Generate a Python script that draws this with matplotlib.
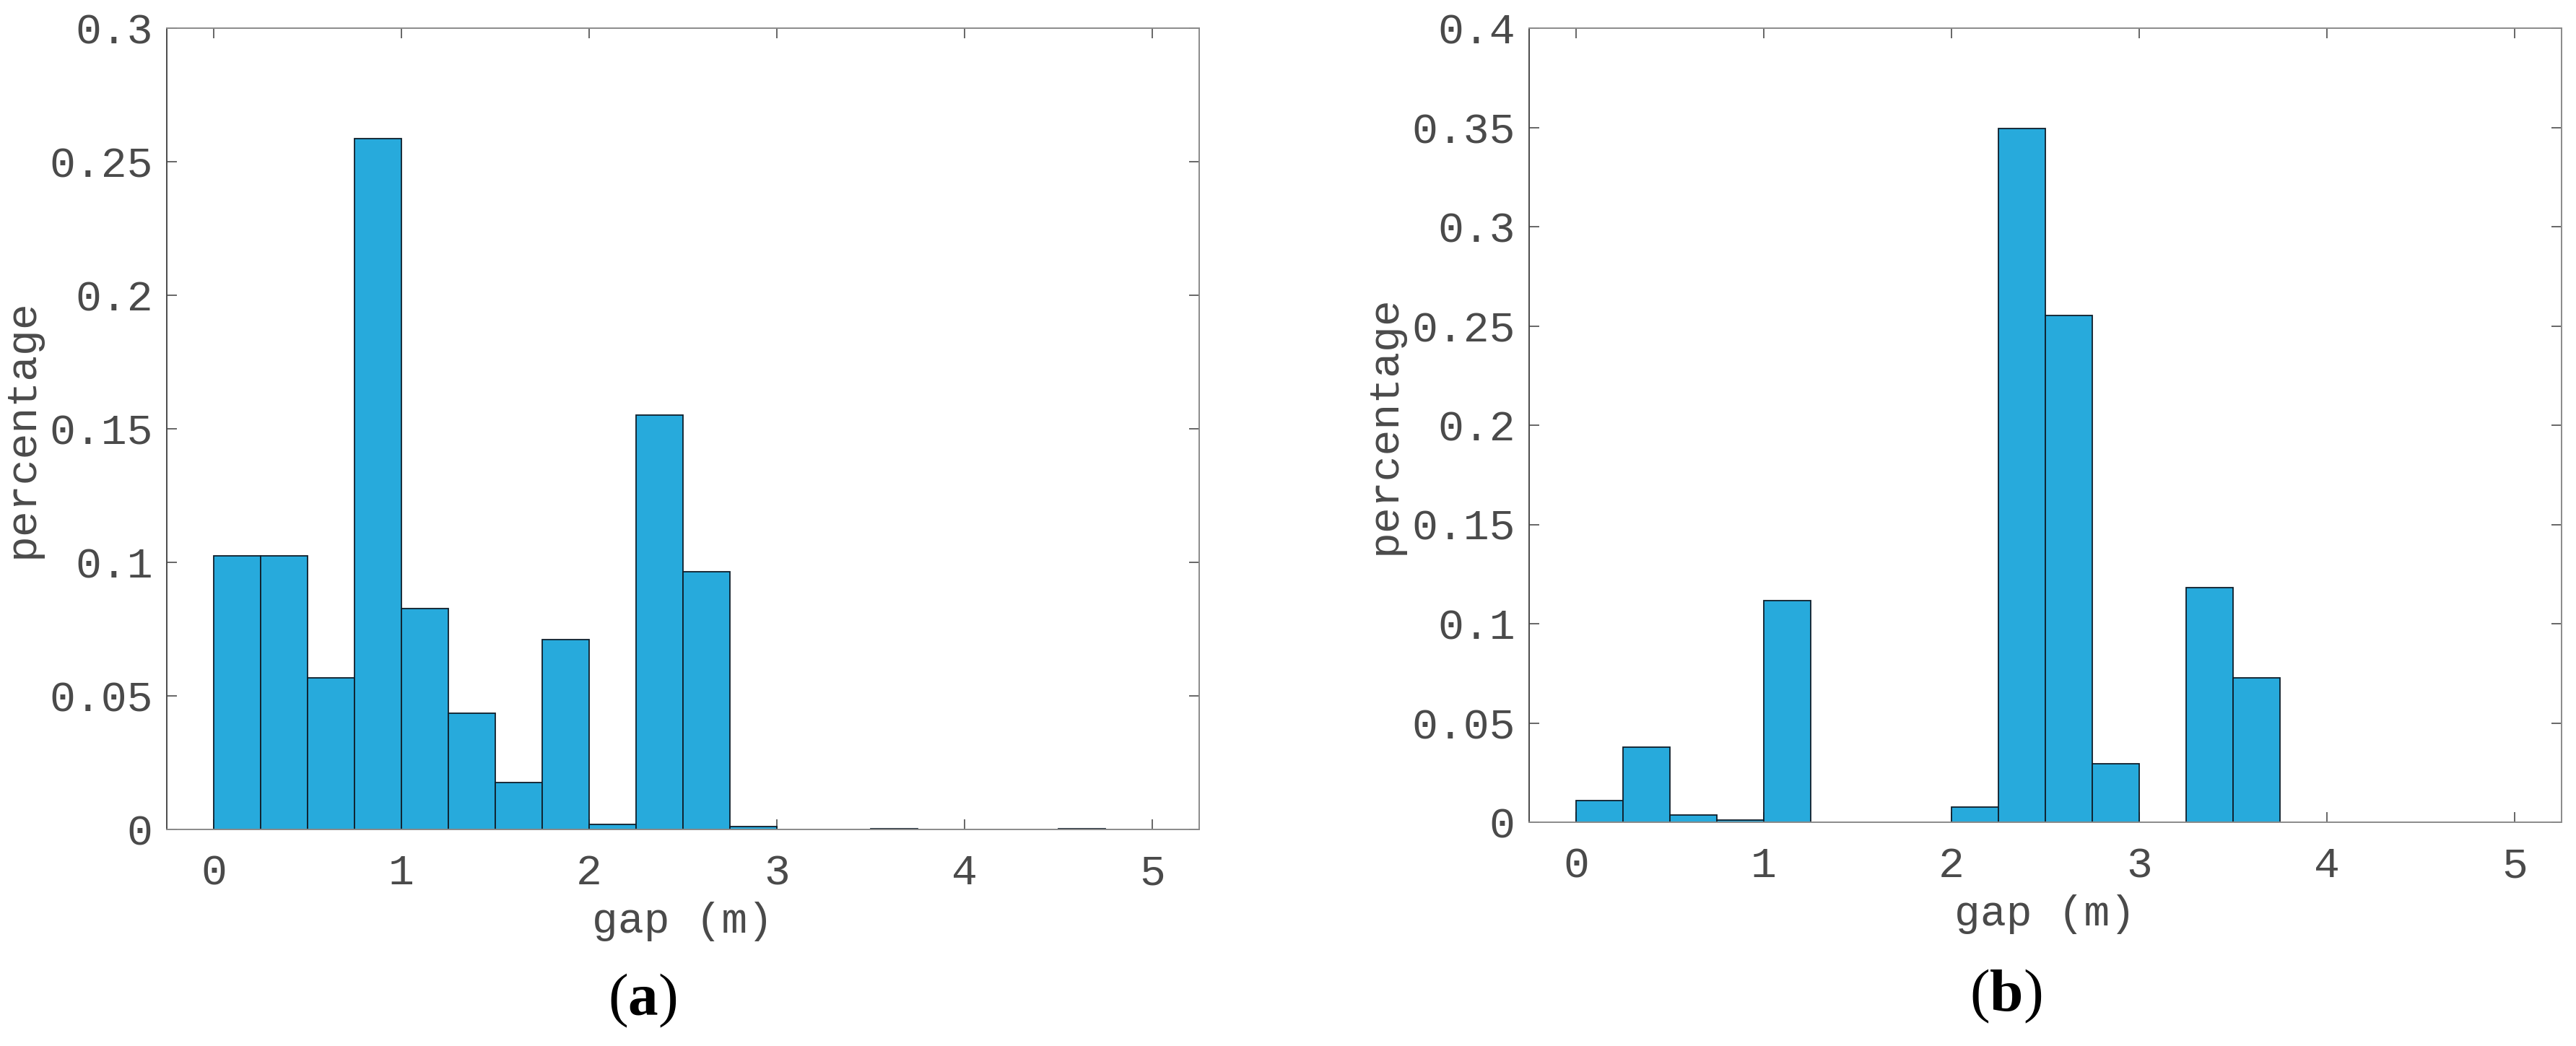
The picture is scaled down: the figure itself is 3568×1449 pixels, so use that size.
import numpy as np
import matplotlib
matplotlib.use("Agg")
import matplotlib.pyplot as plt

# ---------------- data ----------------
bin_edges = np.arange(0, 5.0001, 0.25)

pct_a = [0.1024, 0.1024, 0.0567, 0.2586, 0.0827, 0.0435, 0.0175, 0.0712,
         0.0020, 0.1551, 0.0964, 0.0010, 0.0, 0.0, 0.0003, 0.0,
         0.0, 0.0, 0.0003, 0.0]
pct_b = [0.0108, 0.0380, 0.0037, 0.0010, 0.1116, 0.0, 0.0, 0.0,
         0.0077, 0.3496, 0.2551, 0.0296, 0.0, 0.1183, 0.0729, 0.0,
         0.0, 0.0, 0.0, 0.0]

xticks = [0, 1, 2, 3, 4, 5]
yticks_a = [0, 0.05, 0.1, 0.15, 0.2, 0.25, 0.3]
yticks_b = [0, 0.05, 0.1, 0.15, 0.2, 0.25, 0.3, 0.35, 0.4]
ylim_a = 0.3
ylim_b = 0.4
xlabel = "gap (m)"
ylabel = "percentage"
panel_labels = ["a", "b"]

# ---------------- style ----------------
W, H = 3568, 1449
DPI = 100
fig = plt.figure(figsize=(W / DPI, H / DPI), dpi=DPI)
fig.patch.set_facecolor("white")

FONT = "Liberation Mono"
FS = 43
TXT = "#4a4a4a"
FACE = "#27AADC"
EDGE = "#0f1e2a"

plt.rcParams["mathtext.fontset"] = "custom"
plt.rcParams["mathtext.rm"] = "Liberation Serif"
plt.rcParams["mathtext.bf"] = "Liberation Serif:bold"


def fmt(v):
    return f"{v:g}"


def make_panel(rect, vals, yticks, ymax, label_xy, letter):
    ax = fig.add_axes(rect)
    widths = np.diff(bin_edges)
    lefts = bin_edges[:-1]
    v = np.asarray(vals)
    mask = v > 0
    ax.bar(lefts[mask], v[mask], width=widths[mask], align="edge",
           color=FACE, edgecolor=EDGE, linewidth=1.3, zorder=2)
    ax.set_xlim(-0.25, 5.25)
    ax.set_ylim(0, ymax)
    ax.set_xticks(xticks)
    ax.set_xticklabels([fmt(t) for t in xticks])
    ax.set_yticks(yticks)
    ax.set_yticklabels([fmt(t) for t in yticks])
    for s in ax.spines.values():
        s.set_color("#8a8a8a")
        s.set_linewidth(1.4)
        s.set_zorder(3)
    ax.spines["left"].set_color("#4a4a4a")
    ax.tick_params(axis="both", which="both", direction="in", length=10,
                   width=1.4, colors="#666666", top=True, right=True,
                   labelsize=FS, labelcolor=TXT)
    ax.tick_params(axis="x", pad=24)
    ax.tick_params(axis="y", pad=14)
    for lab in ax.get_xticklabels() + ax.get_yticklabels():
        lab.set_fontfamily(FONT)
    ax.set_xlabel(xlabel, fontsize=FS, fontfamily=FONT, color=TXT)
    ax.set_ylabel(ylabel, fontsize=FS, fontfamily=FONT, color=TXT)
    hpx = rect[3] * H
    ax.xaxis.set_label_coords(0.5, -100 / hpx)
    ax.yaxis.set_label_coords(-0.121, 0.5)
    fig.text(label_xy[0], label_xy[1], r"$(\mathbf{%s})$" % letter,
             fontsize=60, ha="center", va="center", color="black")
    return ax


rect_a = [231 / W, (H - 1149) / H, 1430 / W, 1110 / H]
rect_b = [2118 / W, (H - 1139) / H, 1430 / W, 1100 / H]

make_panel(rect_a, pct_a, yticks_a, ylim_a, (890 / W, 1 - 1385 / H), panel_labels[0])
make_panel(rect_b, pct_b, yticks_b, ylim_b, (2778 / W, 1 - 1380 / H), panel_labels[1])

fig.savefig("out.png", dpi=DPI, facecolor="white")
